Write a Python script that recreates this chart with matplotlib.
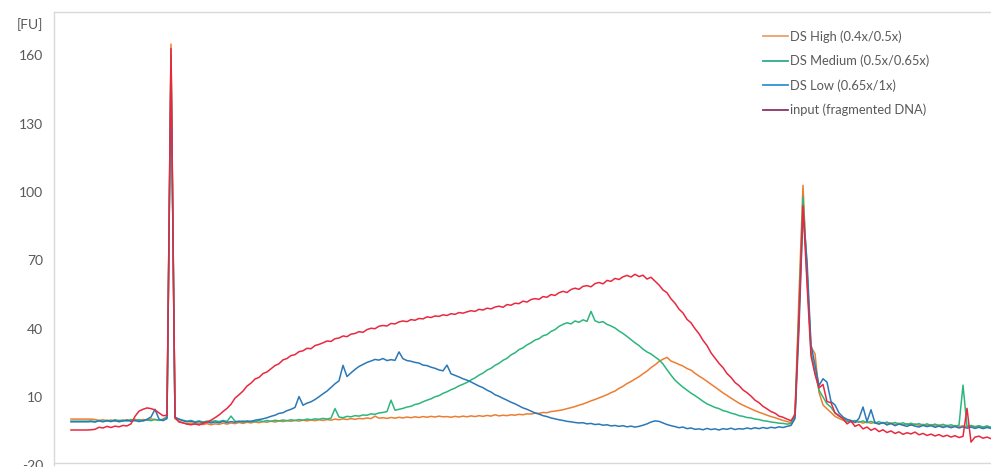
import numpy as np
import matplotlib
matplotlib.use("Agg")
import matplotlib.pyplot as plt
from matplotlib.lines import Line2D

plt.rcParams['font.family'] = ['Lato', 'DejaVu Sans']

# ---- data (fluorescence units, FU) sampled on a common time grid ----
series_names = ["DS High (0.4x/0.5x)", "DS Medium (0.5x/0.65x)",
                "DS Low (0.65x/1x)", "input (fragmented DNA)"]

ds_high = [
    0.3, 0.3, 0.3, 0.3, 0.3, 0.3, 0.1, -0.3, 0.0, -0.5,
    -0.1, -0.6, -0.2, -0.5, 0.0, -0.4, 0.2, -0.3, 0.1, -0.2,
    0.4, 0.0, -0.2, 0.3, 1.5, 165, 0.5, -0.6, -1.3, -1.8,
    -1.4, -2.0, -1.6, -2.1, -1.7, -2.2, -1.8, -2.0, -1.5, -1.9,
    -1.4, -1.7, -1.2, -1.6, -1.1, -1.4, -0.9, -1.3, -0.8, -1.1,
    -0.6, -1.0, -0.5, -0.8, -0.4, -0.7, -0.3, -0.6, -0.2, -0.5,
    -0.1, -0.4, 0.0, -0.3, 0.1, -0.2, 0.3, 0.0, 0.4, 0.1,
    0.5, 0.2, 0.6, 0.4, 0.8, 0.5, 1.6, 0.7, 0.9, 0.6,
    1.0, 0.7, 1.1, 0.8, 1.2, 0.9, 1.3, 1.0, 1.4, 1.1,
    1.5, 1.2, 1.6, 1.3, 1.4, 1.1, 1.5, 1.2, 1.6, 1.3,
    1.7, 1.4, 1.8, 1.5, 1.9, 1.6, 2.2, 1.7, 2.0, 1.8,
    2.2, 2.0, 2.4, 2.2, 2.6, 2.5, 2.9, 2.8, 3.2, 3.1,
    3.6, 3.8, 4.1, 4.4, 4.9, 5.3, 5.8, 6.4, 6.9, 7.6,
    8.3, 8.9, 9.6, 10.3, 11.0, 11.9, 12.6, 13.8, 14.7, 15.9,
    16.8, 17.9, 18.9, 20.2, 21.4, 22.9, 24.1, 25.6, 26.6, 27.4,
    25.8, 25.1, 24.3, 23.6, 22.5, 21.8, 20.4, 19.2, 18.1, 16.9,
    15.6, 14.4, 13.1, 11.8, 10.7, 9.5, 8.4, 7.3, 6.4, 5.6,
    4.8, 4.0, 3.3, 2.7, 2.0, 1.4, 0.9, 0.3, -0.3, -0.8,
    -1.2, 3.0, 55, 103, 62, 32, 29, 12, 6.5, 4.8,
    3.2, 1.5, 0.6, -0.2, -0.9, -0.4, -1.2, -0.7, -1.5, -0.9,
    -1.6, -1.0, -1.8, -1.2, -1.9, -1.4, -2.1, -1.5, -2.3, -1.7,
    -2.4, -1.8, -2.5, -2.0, -2.7, -2.1, -2.8, -2.3, -2.9, -2.4,
    -3.0, -2.5, -3.1, -2.6, -3.2, -2.7, -3.3, -2.8, -3.4, -2.9,
    -3.5,
]

ds_medium = [
    -0.6, -0.6, -0.6, -0.6, -0.6, -0.5, -0.8, -0.3, -0.7, -0.2,
    -0.6, 0.0, -0.5, -0.1, -0.6, 0.1, -0.4, 0.0, -0.5, -0.1,
    -0.4, 0.2, -0.3, 0.1, 1.0, 160, 0.8, 0.3, -0.2, -0.6,
    -0.3, -0.9, -0.5, -1.0, -0.6, -0.9, -0.4, -0.8, -0.3, -0.7,
    1.6, -0.6, -0.9, -0.5, -1.0, -0.6, -0.9, -0.4, -0.8, -0.3,
    -0.7, -0.2, -0.5, -0.1, -0.4, 0.0, -0.3, 0.1, -0.2, 0.3,
    0.0, 0.4, 0.2, 0.6, 0.3, 0.7, 4.9, 1.2, 0.9, 1.5,
    1.3, 1.8, 1.6, 2.1, 2.0, 2.6, 2.4, 3.0, 3.2, 3.6,
    8.6, 4.2, 4.6, 5.0, 5.6, 5.9, 6.7, 7.1, 7.9, 8.6,
    9.2, 10.1, 10.6, 11.6, 12.3, 13.2, 13.9, 14.9, 15.6, 16.4,
    17.5, 18.4, 19.6, 20.5, 21.8, 22.6, 23.9, 24.8, 26.1, 27.0,
    28.5, 29.4, 30.8, 31.6, 32.9, 33.8, 35.0, 35.6, 36.9, 37.4,
    38.8, 39.6, 41.0, 41.9, 42.6, 42.1, 43.4, 42.8, 43.9, 43.2,
    47.6, 43.5, 42.7, 43.1, 41.9, 41.2, 40.3, 39.0, 37.9, 36.6,
    35.2, 33.8, 32.6, 31.0, 29.8, 28.9, 27.6, 26.3, 24.5, 22.0,
    19.6, 17.4, 15.8, 14.3, 13.0, 11.7, 10.6, 9.4, 8.1, 7.0,
    6.2, 5.4, 4.9, 4.0, 3.6, 2.9, 2.5, 1.8, 1.5, 1.0,
    0.8, 0.3, 0.1, -0.4, -0.6, -1.0, -1.2, -1.5, -1.6, -1.9,
    -1.7, 1.5, 48, 98, 66, 30, 21, 13, 10, 7,
    5.5, 3.0, 1.6, 0.5, -0.4, -0.9, -0.3, -1.1, -0.5, -1.3,
    -0.7, -1.5, -0.8, -1.6, -1.0, -1.8, -1.2, -1.9, -1.3, -2.1,
    -1.5, -2.2, -1.7, -2.4, -1.8, -2.5, -1.9, -2.6, -2.0, -2.7,
    -2.2, -2.8, -2.4, 15.2, -2.9, -2.5, -3.0, -2.6, -3.2, -2.7,
    -3.3,
]

ds_low = [
    -0.9, -0.9, -0.9, -0.9, -0.9, -0.8, -1.0, -0.5, -0.9, -0.4,
    -0.8, -0.3, -0.9, -0.5, -0.2, -0.7, -0.3, -0.8, -0.4, 0.2,
    1.2, 4.6, 0.3, -0.4, 0.5, 156, 1.2, 0.2, -0.4, -0.9,
    -0.6, -1.2, -0.8, -1.3, -0.9, -1.4, -1.0, -1.3, -0.7, -1.2,
    -0.8, -1.1, -0.6, -1.0, -0.5, -0.8, -0.2, 0.1, 0.4, 0.9,
    1.5, 2.0, 2.8, 3.1, 4.0, 4.6, 5.4, 10.2, 6.4, 7.3,
    7.9, 8.9, 10.1, 11.4, 12.6, 14.2, 15.8, 17.1, 23.9, 19.0,
    20.6, 22.1, 23.4, 24.3, 25.2, 25.8, 26.5, 26.2, 26.9, 26.0,
    26.4, 26.1, 29.8, 26.8, 26.0, 25.7, 25.2, 24.9, 24.0, 23.8,
    23.1, 22.6, 21.9, 21.5, 24.0, 20.2, 19.5, 18.8, 18.0, 17.4,
    16.6, 15.7, 14.8, 14.1, 13.0, 12.2, 11.0, 10.3, 9.4, 8.6,
    7.7, 7.0, 6.1, 5.2, 4.6, 3.8, 3.0, 2.5, 1.8, 1.4,
    0.8, 0.4, 0.0, -0.3, -0.7, -0.9, -1.2, -1.4, -1.3, -1.8,
    -1.6, -2.1, -1.9, -2.4, -2.2, -2.7, -2.5, -2.9, -2.6, -3.1,
    -2.8, -3.2, -2.9, -2.4, -1.8, -1.0, -0.5, -0.7, -1.4, -2.1,
    -2.6, -3.0, -3.5, -3.2, -3.9, -3.6, -4.2, -4.0, -4.4, -3.8,
    -4.3, -4.0, -4.5, -3.9, -4.2, -3.7, -4.3, -3.9, -4.1, -3.6,
    -4.0, -3.5, -3.9, -3.4, -3.8, -3.3, -3.6, -3.1, -3.4, -2.9,
    -2.5, 0.5, 40, 91, 70, 33, 24, 15, 18, 16.5,
    8, 6.5, 3.0, 1.2, 0.2, -0.3, -1.2, 0.6, 5.6, -0.8,
    4.4, -1.4, -1.9, -1.2, -2.3, -1.6, -2.6, -1.9, -2.4, -2.9,
    -2.2, -2.8, -3.2, -2.5, -3.0, -2.6, -3.3, -2.8, -3.4, -2.9,
    -3.5, -3.0, -3.6, -3.1, -3.7, -3.2, -3.8, -3.3, -3.9, -3.4,
    -3.8,
]

input_dna = [
    -4.5, -4.5, -4.5, -4.5, -4.5, -4.4, -4.2, -3.3, -3.6, -2.9,
    -3.4, -2.8, -3.1, -2.5, -2.7, -1.8, 1.5, 3.8, 4.6, 5.2,
    4.9, 4.3, 3.0, 1.8, 2.0, 163, 1.0, -1.0, -1.4, -1.9,
    -2.2, -1.8, -2.3, -1.6, -1.0, -0.2, 0.9, 2.1, 3.6, 5.0,
    6.8, 9.5, 11.0, 12.6, 14.8, 16.1, 17.9, 18.6, 20.3, 21.0,
    22.4, 23.8, 24.6, 26.3, 26.9, 28.2, 28.6, 29.9, 30.3, 31.4,
    31.2, 32.6, 33.1, 33.8, 34.6, 34.4, 35.6, 35.9, 36.8, 36.5,
    37.6, 37.9, 38.7, 38.4, 39.6, 40.2, 40.0, 41.1, 41.4, 41.2,
    42.3, 42.1, 43.0, 43.4, 43.1, 44.0, 43.7, 44.5, 44.3, 45.2,
    44.9, 45.6, 45.4, 46.1, 45.8, 46.6, 46.3, 47.1, 46.8, 47.4,
    47.9, 47.6, 48.5, 48.2, 49.0, 48.7, 49.5, 49.9, 49.4, 50.6,
    50.3, 51.2, 51.0, 52.1, 51.7, 52.8, 53.2, 52.9, 54.1, 53.8,
    55.0, 54.6, 55.8, 56.4, 55.9, 57.2, 57.8, 57.3, 58.6, 58.9,
    58.4, 59.8, 60.3, 59.7, 61.2, 60.8, 62.1, 61.6, 62.8, 63.4,
    62.7, 63.9, 62.9, 63.5, 61.8, 62.6, 60.9, 59.2, 57.0, 55.8,
    53.1, 51.2, 48.6, 46.9, 44.1, 42.6, 40.0, 37.8, 34.9, 32.6,
    29.4, 27.1, 24.8, 22.9, 20.3, 18.6, 16.4, 15.0, 13.1, 11.9,
    10.4, 8.6, 7.5, 5.9, 4.8, 3.6, 2.9, 1.6, 1.1, 0.3,
    -0.4, 2.0, 45, 94, 60, 28, 20, 14, 15.5, 8,
    7.5, 3, 1.8, 0.5, -1.8, -0.6, -2.9, -2.1, -4.0, -3.2,
    -4.6, -3.8, -5.2, -4.4, -5.6, -4.9, -6.0, -5.3, -6.4, -5.7,
    -6.2, -5.4, -6.6, -6.0, -6.9, -6.3, -7.1, -6.5, -7.4, -6.8,
    -7.6, -7.0, -7.8, -7.3, 5.0, -9.8, -7.6, -7.2, -8.1, -7.6,
    -8.3,
]

y_ticks = [-20, 10, 40, 70, 100, 130, 160]

line_colors = ["#ED7D31", "#2DB67C", "#2B78B8", "#E8283F"]
legend_colors = ["#EDA06A", "#2EAA90", "#2F92CF", "#8C3468"]

# ---- figure ----
W, H = 991, 467
fig = plt.figure(figsize=(W / 100, H / 100), dpi=100)
left_px, top_px, bottom_px = 54, 12, 465.3
ax = fig.add_axes([left_px / W, 1 - bottom_px / H, 1 - left_px / W,
                   (bottom_px - top_px) / H])

x = np.arange(len(input_dna))
for ys, c in zip([ds_high, ds_medium, ds_low, input_dna], line_colors):
    ax.plot(x, ys, color=c, lw=1.1, solid_joinstyle='round')

ax.set_xlim(-4.25, 230)
ax.set_ylim(-20, 179.1)
ax.set_yticks(y_ticks)
ax.set_yticklabels([str(t) for t in y_ticks])
ax.set_xticks([])
ax.tick_params(axis='y', length=0, pad=8, labelsize=10, labelcolor="#595959")
for s in ['left', 'top', 'bottom']:
    ax.spines[s].set_color("#D9D9D9")
    ax.spines[s].set_linewidth(1.0)
ax.spines['right'].set_visible(False)
ax.spines['bottom'].set_position(('data', -19))

fig.text(43 / W, 1 - 25 / H, "[FU]", ha='right', va='center',
         fontsize=10, color="#595959")

handles = [Line2D([0], [0], color=c, lw=1.3) for c in legend_colors]
leg = ax.legend(handles, series_names, loc='upper left',
                bbox_to_anchor=((763 - left_px) / (W - left_px),
                                1 - (30 - top_px) / (bottom_px - top_px)),
                frameon=False, fontsize=9.3, handlelength=1.95, handletextpad=0.15,
                labelspacing=0.93, borderaxespad=0, borderpad=0)
for t in leg.get_texts():
    t.set_color("#595959")

fig.savefig("out.png", dpi=100)
